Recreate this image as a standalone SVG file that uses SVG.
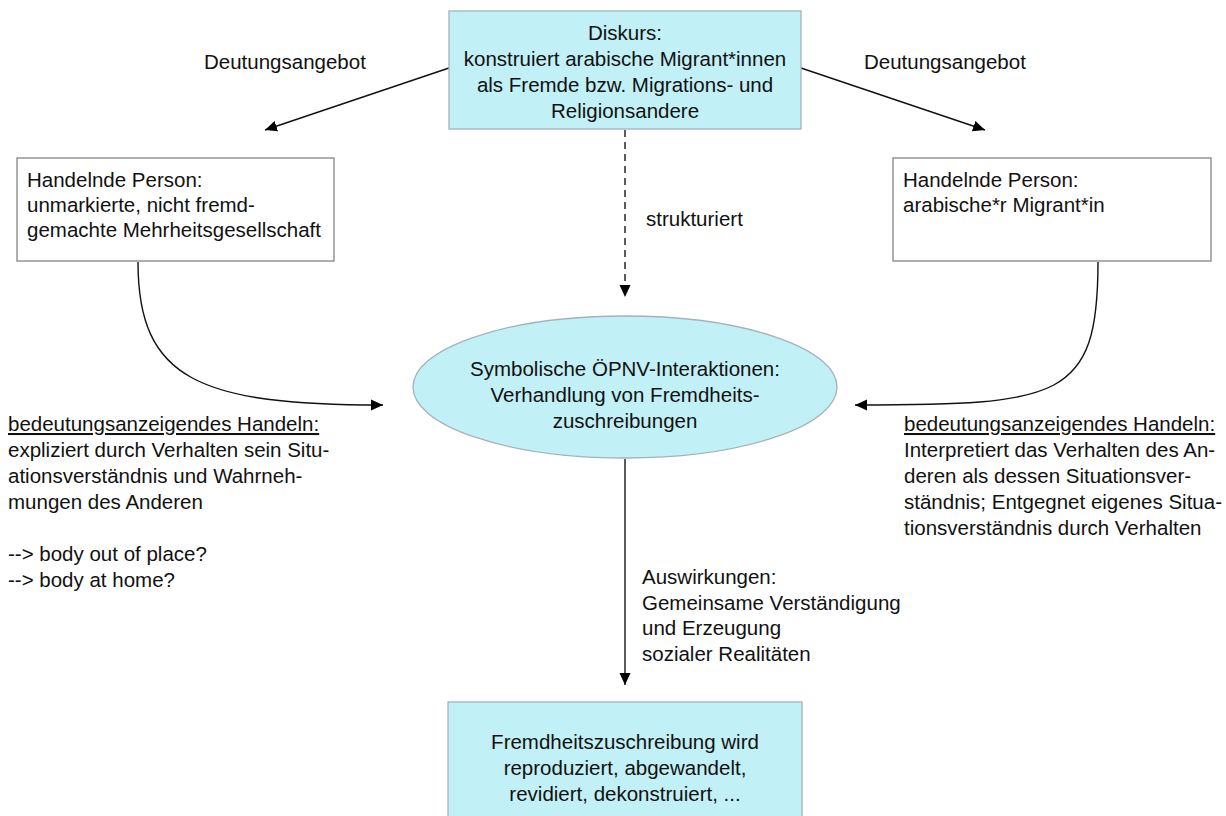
<svg xmlns="http://www.w3.org/2000/svg" width="1226" height="816" viewBox="0 0 1226 816">
<defs>
<style>
text{font-family:"Liberation Sans",Arial,sans-serif;font-size:20.5px;fill:#111}
.c{text-anchor:middle}
.blue{fill:#c1f0f6;stroke:#a3b3b8;stroke-width:1.3}
.white{fill:#fff;stroke:#7a7a7a;stroke-width:1.2}
.ln{fill:none;stroke:#111;stroke-width:1.4}
.dk{fill:none;stroke:#333;stroke-width:1.6}
</style>
<marker id="ah" viewBox="0 0 12 12" refX="12" refY="6" markerWidth="12" markerHeight="12" orient="auto" markerUnits="userSpaceOnUse"><path d="M0,0.5 L12,6 L0,11.5 z" fill="#000"/></marker>
</defs>
<rect width="1226" height="816" fill="#fff"/>
<g id="connectors">
<line class="ln" x1="449" y1="68" x2="265" y2="130" marker-end="url(#ah)"/>
<line class="ln" x1="801" y1="68" x2="985" y2="130" marker-end="url(#ah)"/>
<line class="dk" x1="625" y1="130" x2="625" y2="297" stroke-dasharray="7 5" marker-end="url(#ah)"/>
<path class="ln" d="M138,262 C138,380 200,405 383,405" marker-end="url(#ah)"/>
<path class="ln" d="M1098,262 C1098,400 1060,405 855,405" marker-end="url(#ah)"/>
<line class="dk" x1="625" y1="459" x2="625" y2="685" marker-end="url(#ah)"/>
<text x="204" y="69">Deutungsangebot</text>
<text x="864" y="69">Deutungsangebot</text>
<text x="646" y="226">strukturiert</text>
<text x="642" y="584">Auswirkungen:</text>
<text x="642" y="610">Gemeinsame Verständigung</text>
<text x="642" y="635">und Erzeugung</text>
<text x="642" y="661">sozialer Realitäten</text>
</g>
<g id="diskurs">
<rect class="blue" x="449" y="11" width="352" height="118"/>
<text class="c" x="625" y="40">Diskurs:</text>
<text class="c" x="625" y="66">konstruiert arabische Migrant*innen</text>
<text class="c" x="625" y="92">als Fremde bzw. Migrations- und</text>
<text class="c" x="625" y="118">Religionsandere</text>
</g>
<g id="person-left">
<rect class="white" x="17" y="158" width="317" height="103"/>
<text x="27" y="187">Handelnde Person:</text>
<text x="27" y="212">unmarkierte, nicht fremd-</text>
<text x="27" y="237">gemachte Mehrheitsgesellschaft</text>
</g>
<g id="person-right">
<rect class="white" x="893" y="158" width="318" height="103"/>
<text x="903" y="187">Handelnde Person:</text>
<text x="903" y="212">arabische*r Migrant*in</text>
</g>
<g id="interaktion">
<ellipse class="blue" cx="625" cy="387" rx="212" ry="71"/>
<text class="c" x="625" y="376">Symbolische ÖPNV-Interaktionen:</text>
<text class="c" x="625" y="402">Verhandlung von Fremdheits-</text>
<text class="c" x="625" y="428">zuschreibungen</text>
</g>
<g id="handeln-left">
<text x="8" y="431" text-decoration="underline">bedeutungsanzeigendes Handeln:</text>
<text x="8" y="457">expliziert durch Verhalten sein Situ-</text>
<text x="8" y="483">ationsverständnis und Wahrneh-</text>
<text x="8" y="509">mungen des Anderen</text>
<text x="8" y="561">--&gt; body out of place?</text>
<text x="8" y="587">--&gt; body at home?</text>
</g>
<g id="handeln-right">
<text x="904" y="431" text-decoration="underline">bedeutungsanzeigendes Handeln:</text>
<text x="904" y="457">Interpretiert das Verhalten des An-</text>
<text x="904" y="483">deren als dessen Situationsver-</text>
<text x="904" y="509">ständnis; Entgegnet eigenes Situa-</text>
<text x="904" y="535">tionsverständnis durch Verhalten</text>
</g>
<g id="ergebnis">
<rect class="blue" x="448" y="702" width="354" height="130"/>
<text class="c" x="625" y="749">Fremdheitszuschreibung wird</text>
<text class="c" x="625" y="775">reproduziert, abgewandelt,</text>
<text class="c" x="625" y="801">revidiert, dekonstruiert, ...</text>
</g>
</svg>
